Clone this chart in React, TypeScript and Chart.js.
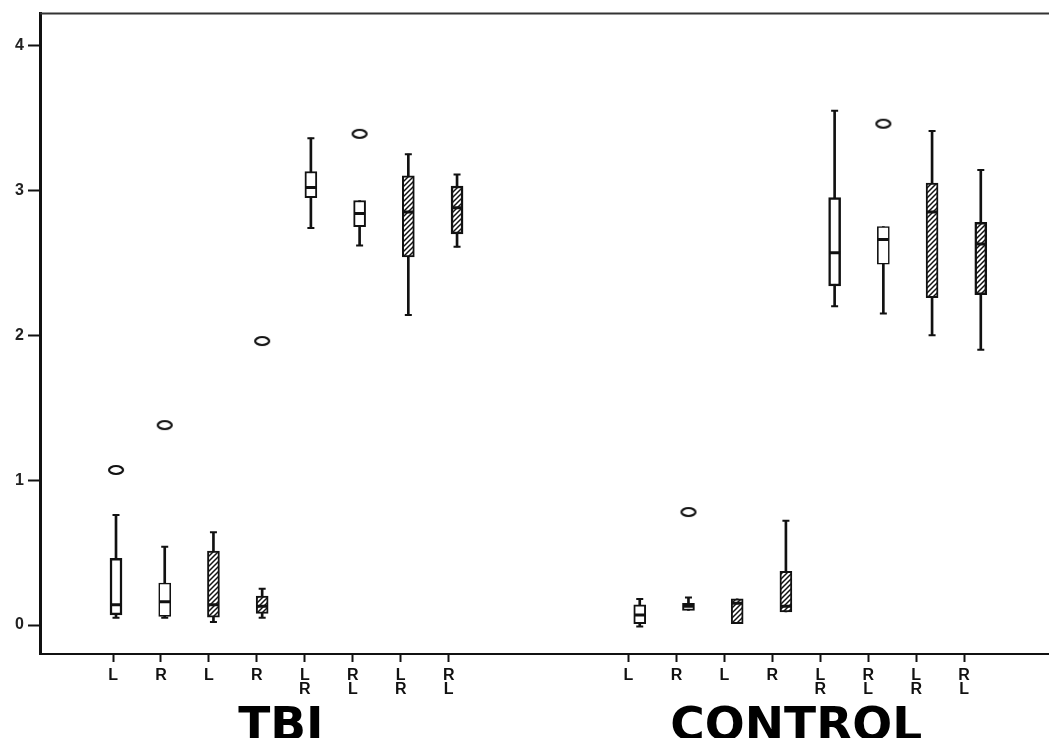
import React, { useEffect, useRef } from 'react';
import { Chart, registerables } from 'chart.js';

Chart.register(...registerables);

// ---- data ----
const groups = ['TBI', 'CONTROL'];
const categories = ['L', 'R', 'L', 'R', 'L\nR', 'R\nL', 'L\nR', 'R\nL'];
const yTicks = [0, 1, 2, 3, 4];

const tbiMin = [0.05, 0.05, 0.02, 0.05, 2.74, 2.62, 2.14, 2.61];
const tbiQ1 = [0.07, 0.06, 0.055, 0.08, 2.95, 2.75, 2.54, 2.70];
const tbiMedian = [0.14, 0.16, 0.14, 0.13, 3.02, 2.84, 2.85, 2.88];
const tbiQ3 = [0.46, 0.29, 0.51, 0.20, 3.13, 2.93, 3.10, 3.03];
const tbiMax = [0.76, 0.54, 0.64, 0.25, 3.36, 2.93, 3.25, 3.11];
const tbiOutliers = [[1.07], [1.38], [], [1.96], [], [3.39], [], []];

const controlMin = [-0.01, 0.10, 0.01, 0.09, 2.20, 2.15, 2.00, 1.90];
const controlQ1 = [0.01, 0.10, 0.01, 0.09, 2.34, 2.49, 2.26, 2.28];
const controlMedian = [0.07, 0.13, 0.15, 0.13, 2.57, 2.66, 2.85, 2.63];
const controlQ3 = [0.14, 0.15, 0.18, 0.37, 2.95, 2.75, 3.05, 2.78];
const controlMax = [0.18, 0.19, 0.18, 0.72, 3.55, 2.75, 3.41, 3.14];
const controlOutliers = [[], [0.78], [], [], [], [3.46], [], []];

// ---- styling (not data) ----
const hatched = [false, false, true, true, false, false, true, true];
const tbiBorder = [2.5, 1.6, 2, 2, 2, 2, 2, 2.5];
const controlBorder = [2, 2, 2, 2, 2.5, 1.6, 2, 2.5];
const groupStart = [1.5, 12.25];

type Box = { x: number; min: number; q1: number; med: number; q3: number; max: number; out: number[]; hatch: boolean; bw: number };

function buildBoxes(): Box[] {
  const sets = [
    [tbiMin, tbiQ1, tbiMedian, tbiQ3, tbiMax, tbiOutliers, tbiBorder],
    [controlMin, controlQ1, controlMedian, controlQ3, controlMax, controlOutliers, controlBorder],
  ] as any[];
  const res: Box[] = [];
  groups.forEach((_, gi) => {
    const [mn, q1, md, q3, mx, out, bw] = sets[gi];
    categories.forEach((_, i) => {
      res.push({ x: groupStart[gi] + i, min: mn[i], q1: q1[i], med: md[i], q3: q3[i], max: mx[i], out: out[i], hatch: hatched[i], bw: bw[i] });
    });
  });
  return res;
}

const noPad = (s: any) => {
  s.paddingLeft = 0;
  s.paddingRight = 0;
};

export default function App() {
  const ref = useRef<HTMLCanvasElement>(null);

  useEffect(() => {
    const canvas = ref.current!;
    const ctx = canvas.getContext('2d')!;

    // hatch pattern
    const pc = document.createElement('canvas');
    pc.width = 5;
    pc.height = 5;
    const p = pc.getContext('2d')!;
    p.fillStyle = '#fff';
    p.fillRect(0, 0, 5, 5);
    p.strokeStyle = '#111';
    p.lineWidth = 1.5;
    p.beginPath();
    p.moveTo(0, 5); p.lineTo(5, 0);
    p.moveTo(-1, 1); p.lineTo(1, -1);
    p.moveTo(4, 6); p.lineTo(6, 4);
    p.stroke();
    const hatch = ctx.createPattern(pc, 'repeat');

    // outlier ellipse symbol
    const oc = document.createElement('canvas');
    oc.width = 18;
    oc.height = 12;
    const o = oc.getContext('2d')!;
    o.strokeStyle = '#111';
    o.lineWidth = 2.2;
    o.beginPath();
    o.ellipse(9, 6, 7, 4, 0, 0, Math.PI * 2);
    o.stroke();

    const boxes = buildBoxes();
    const tickPositions = boxes.map((b) => b.x);
    const tickLabels = groups.flatMap(() => categories);
    const groupCenters = groupStart.map((s) => s + (categories.length - 1) / 2);

    const caps: { x: number; y: number }[] = [];
    boxes.forEach((b) => {
      if (b.max > b.q3) caps.push({ x: b.x, y: b.max });
      if (b.min < b.q1) caps.push({ x: b.x, y: b.min });
    });
    const outliers = boxes.flatMap((b) => b.out.map((v) => ({ x: b.x, y: v })));

    const frame = {
      id: 'frame',
      afterDraw(chart: any) {
        const { ctx: c, chartArea } = chart;
        c.save();
        c.strokeStyle = '#333';
        c.lineWidth = 2;
        c.beginPath();
        c.moveTo(chartArea.left, chartArea.top);
        c.lineTo(chartArea.right, chartArea.top);
        c.stroke();
        c.restore();
      },
    };

    const chart = new Chart(ctx, {
      type: 'bar',
      data: {
        datasets: [
          {
            type: 'line',
            xAxisID: 'xb',
            data: outliers,
            showLine: false,
            pointStyle: oc as any,
            pointRadius: 6,
            order: 1,
          } as any,
          {
            type: 'line',
            xAxisID: 'xb',
            data: boxes.map((b) => ({ x: b.x, y: b.med })),
            showLine: false,
            pointStyle: 'line',
            pointRadius: 5.5,
            pointBorderWidth: 3,
            pointBorderColor: '#111',
            order: 2,
          },
          {
            type: 'line',
            xAxisID: 'xb',
            data: caps,
            showLine: false,
            pointStyle: 'line',
            pointRadius: 3.5,
            pointBorderWidth: 2,
            pointBorderColor: '#111',
            order: 3,
          },
          {
            type: 'bar',
            xAxisID: 'xb',
            data: boxes.map((b) => ({ x: b.x, y: [b.q1, b.q3] })),
            backgroundColor: boxes.map((b) => (b.hatch ? hatch : '#fff')) as any,
            borderColor: '#111',
            borderWidth: boxes.map((b) => b.bw),
            borderSkipped: false,
            barThickness: 12,
            grouped: false,
            order: 4,
          } as any,
          {
            type: 'bar',
            xAxisID: 'xb',
            data: boxes.map((b) => ({ x: b.x, y: [b.min, b.max] })),
            backgroundColor: '#111',
            borderWidth: 0,
            barThickness: 2,
            grouped: false,
            order: 5,
          } as any,
        ],
      },
      options: {
        animation: false,
        responsive: false,
        devicePixelRatio: 1,
        events: [],
        layout: { autoPadding: false, padding: { top: 12, left: 0, right: 0, bottom: 0 } },
        plugins: { legend: { display: false }, tooltip: { enabled: false } },
        scales: {
          xb: { type: 'linear', display: false, min: -0.06, max: 20.65, offset: false, grid: { offset: false }, afterFit: noPad },
          x: {
            type: 'linear',
            position: 'bottom',
            weight: 0,
            min: -0.023,
            max: 21.02,
            offset: false,
            afterBuildTicks: (s: any) => {
              s.ticks = tickPositions.map((v) => ({ value: v }));
            },
            afterFit: (s: any) => {
              s.height = 50;
              noPad(s);
            },
            ticks: {
              autoSkip: false,
              maxRotation: 0,
              minRotation: 0,
              padding: 6,
              color: '#111',
              font: { family: 'Liberation Sans, Arial, sans-serif', weight: 'bold', size: 16, lineHeight: 0.9 },
              callback: (_v: any, i: number) => tickLabels[i].split('\n'),
            },
            grid: { drawOnChartArea: false, drawTicks: true, tickLength: 8, tickWidth: 2, tickColor: '#111', offset: false },
            border: { display: true, color: '#111', width: 2 },
          },
          xg: {
            type: 'linear',
            position: 'bottom',
            weight: 1,
            min: -0.023,
            max: 21.02,
            offset: false,
            afterBuildTicks: (s: any) => {
              s.ticks = groupCenters.map((v) => ({ value: v }));
            },
            afterFit: (s: any) => {
              s.height = 34;
              noPad(s);
            },
            ticks: {
              autoSkip: false,
              maxRotation: 0,
              minRotation: 0,
              padding: 0,
              color: '#000',
              font: { family: 'DejaVu Sans, sans-serif', weight: 'bold', size: 47, lineHeight: 1 },
              callback: (_v: any, i: number) => groups[i],
            },
            grid: { display: false, drawTicks: false },
            border: { display: false },
          },
          y: {
            type: 'linear',
            min: -0.2,
            max: 4.22,
            afterBuildTicks: (s: any) => {
              s.ticks = yTicks.map((v) => ({ value: v }));
            },
            afterFit: (s: any) => {
              s.width = 40;
            },
            ticks: {
              color: '#222',
              padding: 4,
              font: { family: 'Liberation Sans, Arial, sans-serif', weight: 'bold', size: 16 },
              callback: (v: any) => String(v),
            },
            grid: { drawOnChartArea: false, tickLength: 12, tickWidth: 2, tickColor: '#111' },
            border: { display: true, color: '#111', width: 3 },
          },
        } as any,
      },
      plugins: [frame],
    });

    return () => chart.destroy();
  }, []);

  return (
    <div style={{ position: 'fixed', left: 0, top: 0, width: 1049, height: 738, background: '#fff' }}>
      <canvas ref={ref} width={1049} height={738} style={{ display: 'block', width: 1049, height: 738 }} />
    </div>
  );
}
